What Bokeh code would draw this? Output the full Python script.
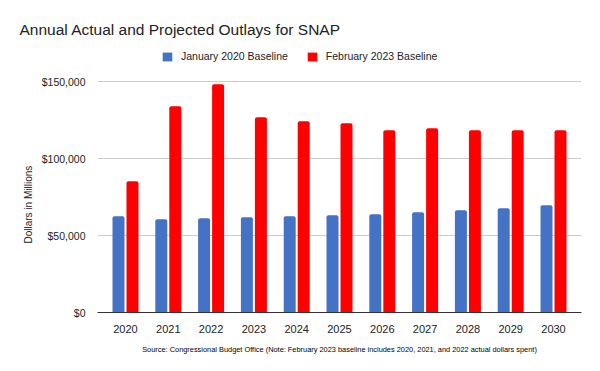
from bokeh.plotting import figure
from bokeh.models import (ColumnDataSource, Legend, LegendItem, FixedTicker,
                          NumeralTickFormatter, Title)
from bokeh.embed import file_html
from bokeh.resources import INLINE

years = [2020, 2021, 2022, 2023, 2024, 2025, 2026, 2027, 2028, 2029, 2030]
jan_2020_baseline = [62500, 60600, 61200, 61900, 62500, 63200, 63800, 65100, 66400, 67700, 69700]
feb_2023_baseline = [85300, 134000, 148200, 126800, 124200, 122900, 118400, 119700, 118400, 118400, 118400]
series_names = ["January 2020 Baseline", "February 2023 Baseline"]
y_ticks = [0, 50000, 100000, 150000]

FONT = "Liberation Sans"
BLUE = "#4472C4"
RED = "#FF0000"

offset = 0.1636
bar_w = 0.28
# frame extends above the top gridline to hold the legend
y_top = 150000 * 267 / 231

src = ColumnDataSource(dict(
    x_jan=[y - offset for y in years],
    x_feb=[y + offset for y in years],
    jan=jan_2020_baseline,
    feb=feb_2023_baseline,
))

p = figure(width=596, height=368, output_backend="svg", toolbar_location=None,
           x_range=(2019.346, 2030.654), y_range=(0, y_top),
           frame_width=484, frame_height=267,
           min_border_left=97, min_border_right=15, min_border_top=45, min_border_bottom=56)
p.outline_line_color = None
p.background_fill_color = "white"
p.border_fill_color = "white"

r1 = p.vbar(x="x_jan", top="jan", width=bar_w, source=src, fill_color=BLUE,
            line_color=None, border_radius=(2, 2, 0, 0))
r2 = p.vbar(x="x_feb", top="feb", width=bar_w, source=src, fill_color=RED,
            line_color=None, border_radius=(2, 2, 0, 0))

# axes
p.xaxis.ticker = FixedTicker(ticks=years)
p.xaxis.major_tick_line_color = None
p.xaxis.minor_tick_line_color = None
p.xaxis.axis_line_color = "#333333"
p.xaxis.major_label_text_font = FONT
p.xaxis.major_label_text_font_size = "11px"
p.xaxis.major_label_text_color = "#222222"
p.xaxis.major_label_standoff = 6

p.yaxis.ticker = FixedTicker(ticks=y_ticks)
p.yaxis.formatter = NumeralTickFormatter(format="$0,0")
p.yaxis.major_tick_line_color = None
p.yaxis.minor_tick_line_color = None
p.yaxis.axis_line_color = None
p.yaxis.major_label_text_font = FONT
p.yaxis.major_label_text_font_size = "10.5px"
p.yaxis.major_label_text_color = "#222222"
p.yaxis.major_label_standoff = 6

p.xgrid.grid_line_color = None
p.ygrid.grid_line_color = "#cccccc"
p.ygrid.ticker = FixedTicker(ticks=y_ticks)

legend = Legend(items=[LegendItem(label=series_names[0], renderers=[r1]),
                       LegendItem(label=series_names[1], renderers=[r2])],
                location=(64, 250), orientation="horizontal",
                glyph_width=12, glyph_height=11, label_standoff=8, spacing=18,
                padding=0, margin=0, border_line_color=None,
                background_fill_alpha=0,
                label_text_font=FONT, label_text_font_size="10.5px",
                label_text_color="#222222", label_height=11)
p.add_layout(legend, "center")

p.title = Title(text="Annual Actual and Projected Outlays for SNAP",
                align="left", offset=-78, standoff=16,
                text_font=FONT, text_font_size="15.5px", text_color="#222222",
                text_font_style="normal")

ylab = Title(text="Dollars in Millions", align="left", offset=69,
             text_font=FONT, text_font_size="10px", text_color="#222222",
             text_font_style="normal")
p.add_layout(ylab, "left")

footer = Title(text="Source: Congressional Budget Office (Note: February 2023 baseline includes 2020, 2021, and 2022 actual dollars spent)",
               align="center", text_font=FONT, text_font_size="7.4px", standoff=15,
               text_color="#000000", text_font_style="normal")
p.add_layout(footer, "below")

open("out.html", "w").write(file_html(p, INLINE))
